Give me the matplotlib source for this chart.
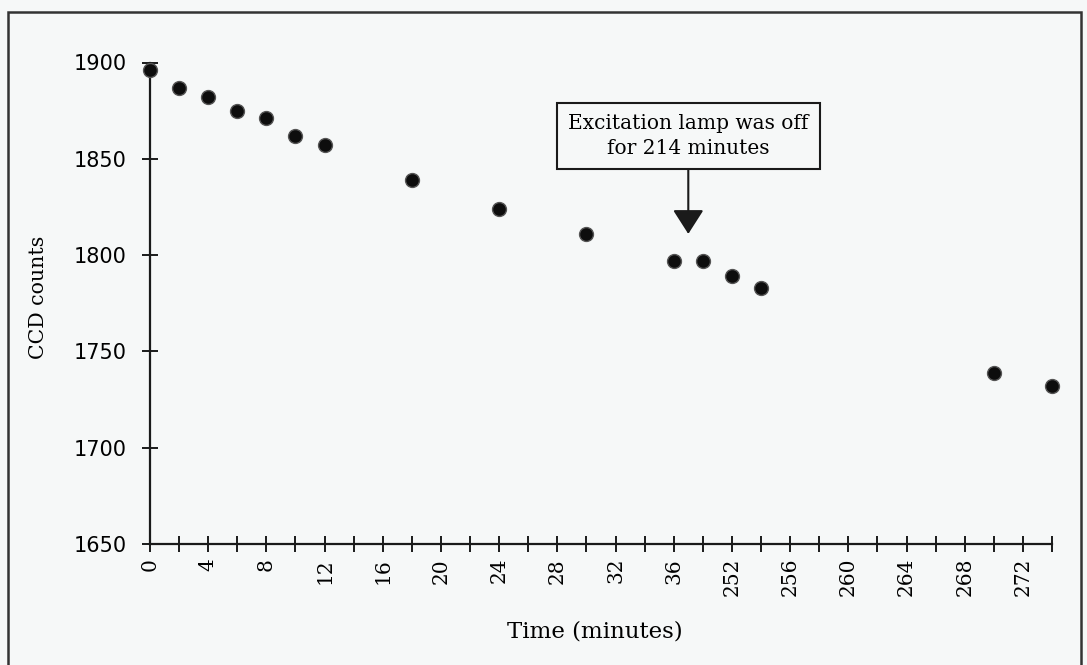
import matplotlib
matplotlib.use("Agg")
import matplotlib.pyplot as plt
from matplotlib.patches import Rectangle

# category axis: 2-minute steps, with the lamp-off gap collapsed after 36
categories = [0, 2, 4, 6, 8, 10, 12, 14, 16, 18, 20, 22, 24, 26, 28, 30, 32, 34, 36,
              250, 252, 254, 256, 258, 260, 262, 264, 266, 268, 270, 272, 274]
tick_labels = ["0", "", "4", "", "8", "", "12", "", "16", "", "20", "", "24", "", "28", "",
               "32", "", "36", "", "252", "", "256", "", "260", "", "264", "", "268", "",
               "272", ""]

times = [0, 2, 4, 6, 8, 10, 12, 18, 24, 30, 36, 250, 252, 254, 270, 274]
counts = [1896, 1887, 1882, 1875, 1871, 1862, 1857, 1839, 1824, 1811,
          1797, 1797, 1789, 1783, 1739, 1732]

bg = "#f6f8f8"
ink = "#1a1a1a"
serif = "DejaVu Serif"

fig = plt.figure(figsize=(10.87, 6.65), dpi=100, facecolor=bg)
ax = fig.add_axes([150 / 1087, 1 - 544 / 665, 902 / 1087, 481.5 / 665])
ax.set_facecolor(bg)

xpos = [categories.index(t) for t in times]
ax.plot(xpos, counts, "o", ms=10, color="#0d0d0d", mec="#555555", mew=1.0,
        clip_on=False, zorder=5)

ax.set_xlim(0, len(categories) - 1)
ax.set_ylim(1650, 1900)
ax.set_xticks(range(len(categories)))
ax.set_xticklabels(tick_labels, rotation=90, family=serif, fontsize=14.5)
ax.set_yticks([1650, 1700, 1750, 1800, 1850, 1900])
for lab in ax.get_yticklabels():
    lab.set_family("DejaVu Sans")
    lab.set_fontsize(15)

for side in ("top", "right"):
    ax.spines[side].set_visible(False)
for side in ("left", "bottom"):
    ax.spines[side].set_linewidth(1.6)
    ax.spines[side].set_color(ink)
ax.tick_params(axis="both", direction="inout", length=12, width=1.4, color=ink)
ax.tick_params(axis="y", pad=11)
ax.tick_params(axis="x", pad=4)

ax.set_xlabel("Time (minutes)", family=serif, fontsize=16.5)
ax.xaxis.set_label_coords(0.493, -0.158)
ax.set_ylabel("CCD counts", family=serif, fontsize=14.8, va="center")
ax.yaxis.set_label_coords(-0.124, 0.513)

ax.annotate("Excitation lamp was off\nfor 214 minutes",
            xy=(18.5, 1811), xytext=(18.5, 1862),
            ha="center", va="center", family=serif, fontsize=14.5,
            linespacing=1.4,
            bbox=dict(boxstyle="square,pad=0.55", fc=bg, ec=ink, lw=1.5),
            arrowprops=dict(arrowstyle="-|>,head_length=0.75,head_width=0.48",
                            mutation_scale=20, color=ink, lw=1.5,
                            shrinkA=0, shrinkB=0))

# frame around the whole figure
fig.patches.append(Rectangle((8 / 1087, -0.05), (1081 - 8) / 1087, 1.05 - 12 / 665,
                             transform=fig.transFigure, fill=False,
                             ec="#333333", lw=1.8))

fig.savefig("out.png", dpi=100, facecolor=bg)
